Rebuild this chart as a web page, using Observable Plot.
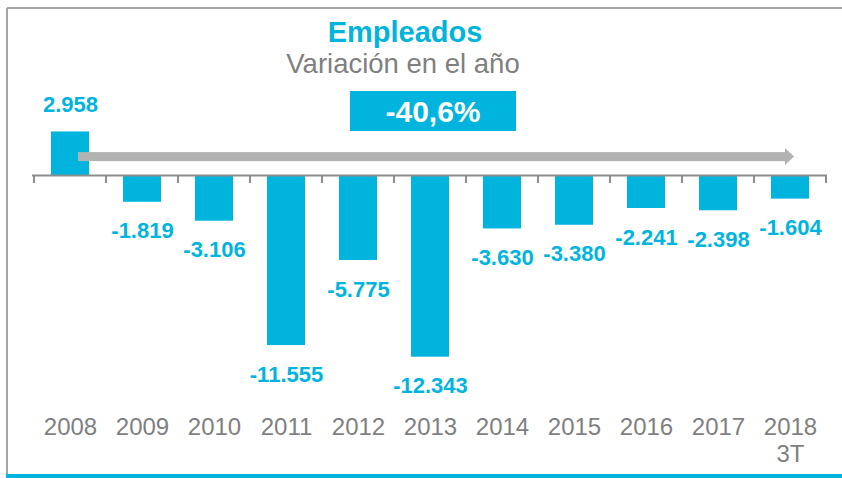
<!DOCTYPE html>
<html><head><meta charset="utf-8">
<script src="https://cdn.jsdelivr.net/npm/d3@7"></script>
<script src="https://cdn.jsdelivr.net/npm/@observablehq/plot@0.6"></script>
<style>html,body{margin:0;padding:0;background:#fff;} #chart{width:842px;height:478px;}</style>
</head><body><div id="chart"></div>
<script>
// ---- data ----
const years = ["2008","2009","2010","2011","2012","2013","2014","2015","2016","2017","2018\n3T"];
const values = [2958,-1819,-3106,-11555,-5775,-12343,-3630,-3380,-2241,-2398,-1604];
const titleText = "Empleados";
const subtitleText = "Variación en el año";
const totalChange = "-40,6%";

// ---- build ----
const data = years.map((year, i) => ({year, value: values[i]}));
const fmt = d3.formatLocale({decimal: ",", thousands: ".", grouping: [3], currency: ["", ""], minus: "-"}).format(",d");
const CYAN = "#00B4DE";
const GRAY_TXT = "#7f7f7f";
const FONT = "'Liberation Sans', Arial, Helvetica, sans-serif";

function decorations(index, scales, values, dims) {
  const X = scales.x, Y = scales.y;
  const bw = X.bandwidth();
  const g = d3.create("svg:g");
  // frame border
  g.append("line").attr("x1", 7).attr("x2", dims.width).attr("y1", 8).attr("y2", 8)
    .attr("stroke", "#a6a6a6").attr("stroke-width", 2);
  g.append("line").attr("x1", 7).attr("x2", 7).attr("y1", 8).attr("y2", 474)
    .attr("stroke", "#a6a6a6").attr("stroke-width", 2);
  g.append("rect").attr("x", 6).attr("y", 474).attr("width", dims.width - 6).attr("height", 4)
    .attr("fill", CYAN);
  // axis ticks at band boundaries
  const y0 = Y(0);
  const bounds = years.map(d => X(d)).concat([X(years[years.length - 1]) + bw]);
  for (const bx of bounds) {
    g.append("line").attr("x1", bx).attr("x2", bx).attr("y1", y0).attr("y2", y0 + 8)
      .attr("stroke", "#8c8c8c").attr("stroke-width", 2);
  }
  // trend arrow from first to last category
  const xs = X(years[0]) + bw / 2 + 8;
  const xt = X(years[years.length - 1]) + bw / 2 + 4;
  const ya = Y(1250);
  g.append("rect").attr("x", xs).attr("y", ya - 4.5).attr("width", xt - 9 - xs).attr("height", 9)
    .attr("fill", "#b2b2b2");
  g.append("path").attr("d", `M${xt - 9},${ya - 8.5}L${xt},${ya}L${xt - 9},${ya + 8.5}Z`).attr("fill", "#b2b2b2");
  // title & subtitle
  g.append("text").attr("x", 405).attr("y", 42).attr("text-anchor", "middle")
    .attr("font-size", 29).attr("font-weight", "bold").attr("fill", CYAN).text(titleText);
  g.append("text").attr("x", 403).attr("y", 73).attr("text-anchor", "middle")
    .attr("font-size", 27.5).attr("fill", GRAY_TXT).text(subtitleText);
  // total change box
  g.append("rect").attr("x", 350).attr("y", 91).attr("width", 166).attr("height", 40).attr("fill", CYAN);
  g.append("text").attr("x", 433).attr("y", 122).attr("text-anchor", "middle")
    .attr("font-size", 30).attr("font-weight", "bold").attr("fill", "#fff").text(totalChange);
  return g.node();
}

const chart = Plot.plot({
  width: 842,
  height: 478,
  marginLeft: 32,
  marginRight: 15,
  marginTop: 57.24,
  marginBottom: 82.2,
  style: {fontFamily: FONT, color: GRAY_TXT, background: "#fff"},
  x: {domain: years, padding: 0},
  y: {domain: [-15000, 8000], axis: null},
  marks: [
    Plot.barY(data, {x: "year", y: "value", fill: CYAN, insetLeft: 17, insetRight: 17}),
    Plot.ruleY([0], {stroke: "#8c8c8c", strokeWidth: 2}),
    decorations,
    Plot.text(data.filter(d => d.value >= 0), {x: "year", y: "value", text: d => fmt(d.value), dy: -27,
      fill: CYAN, fontWeight: "bold", fontSize: 22}),
    Plot.text(data.filter(d => d.value < 0), {x: "year", y: "value", text: d => fmt(d.value), dy: 29,
      fill: CYAN, fontWeight: "bold", fontSize: 22}),
    Plot.axisX({tickSize: 0, tickPadding: 19, fontSize: 24, label: null, lineHeight: 1.15})
  ]
});
document.getElementById("chart").appendChild(chart);
</script>
</body></html>
